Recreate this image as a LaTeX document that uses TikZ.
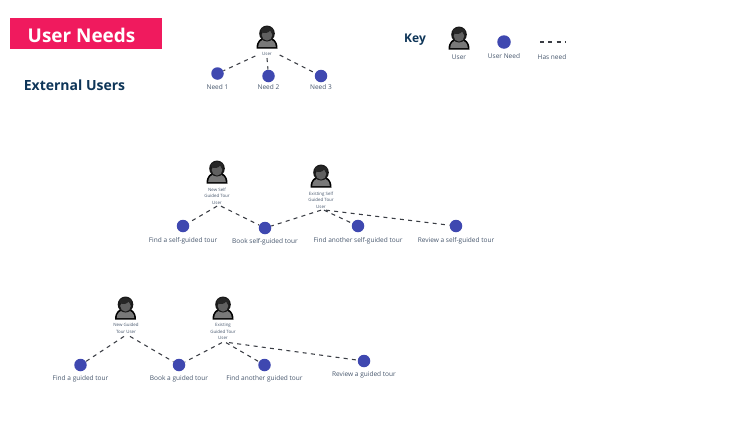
\documentclass[tikz,border=0pt]{standalone}
\usepackage{xcolor}
\usepackage{fontspec}
\setmainfont{Open Sans}
\definecolor{bannerpink}{HTML}{F01A5E}
\definecolor{needblue}{HTML}{3F48B0}
\definecolor{headnavy}{HTML}{0E3558}
\definecolor{labelgrey}{HTML}{46566C}
\definecolor{linegrey}{HTML}{3A3D44}
\tikzset{
    need/.style={circle, fill=needblue, inner sep=0pt, minimum size=12.5*0.75pt},
    needtext/.style={text=labelgrey, font=\fontsize{4.9}{6}\selectfont, inner sep=0pt},
    usertext/.style={text=labelgrey, font=\fontsize{3.3}{4.9}\selectfont, align=center, inner sep=0.5pt},
    heading/.style={text=headnavy, font=\fontsize{10.5}{12}\bfseries\selectfont, inner sep=0pt},
    hasneed/.style={line width=0.8pt, draw=linegrey, dash pattern=on 3pt off 3.2pt},
    personicon/.pic={
        \fill[black] (-10.5,11.5) .. controls (-10.5,3) and (-6,1.5) .. (-3,0.5) -- (3,0.5) .. controls (6,1.5) and (10.5,3) .. (10.5,11.5) -- cycle;
        \fill[gray!95!black] (-8.8,10) .. controls (-8.8,4.5) and (-5,3) .. (-2.5,2.5) -- (2.5,2.5) .. controls (5,3) and (8.8,4.5) .. (8.8,10) -- cycle;
        \fill[black!90] (0,-3.5) ellipse (7.8 and 8);
        \fill[gray!75!black] (0,-2) ellipse (5.3 and 5.6);
        \fill[black!85] (-5.5,-5) .. controls (-3,-3) and (2,-4) .. (3,-6.5) .. controls (4,-5) and (5,-4) .. (5.5,-3) -- (6,-8) -- (0,-10.5) -- (-6,-8) -- cycle;
    },
}
\begin{document}
\begin{tikzpicture}[x=0.75pt, y=-0.75pt]
    \useasboundingbox (0,0) rectangle (750,422);

    % banner and headings
    \node[rectangle, fill=bannerpink, minimum width=152*0.75pt, minimum height=31*0.75pt, inner sep=0pt] (banner) at (86,33.5) {};
    \node[text=white, font=\fontsize{14.2}{18}\bfseries\selectfont, inner sep=0pt] (bannertext) at (81.5,35.5) {User Needs};
    \node[heading] (external) at (74.5,85) {External Users};
    \node[heading, font=\fontsize{9}{11}\bfseries\selectfont] (key) at (415,39.5) {Key};

    % key
    \pic at (459,38) {personicon};
    \node[needtext] (keyuser) at (459,57) {User};
    \node[need, minimum size=13.5*0.75pt] (keyneed) at (504,42) {};
    \node[needtext] (keyneedtext) at (504,56.5) {User Need};
    \coordinate (keya) at (540,42);
    \coordinate (keyb) at (566,42);
    \node[needtext] (keyline) at (552,57.5) {Has need};
    \draw[hasneed] (keya) -- (keyb);

    % example user
    \pic at (267,37) {personicon};
    \node[usertext] (user) at (267,53.5) {User};
    \node[need] (needa) at (217.5,73.5) {};
    \node[needtext] (needatext) at (217.5,87.5) {Need 1};
    \node[need] (needb) at (268.5,76) {};
    \node[needtext] (needbtext) at (268.5,87) {Need 2};
    \node[need] (needc) at (321,76) {};
    \node[needtext] (needctext) at (321,87) {Need 3};

    \draw[hasneed] (user.south west) ++(-6,0) -- (needa); % user-need 1
    \draw[hasneed] (user.south) ++(0,2) -- (needb); % user-need 2
    \draw[hasneed] (user.south east) ++(7,-1) -- (needc); % user-need 3

    % self-guided tour
    \pic at (217,172) {personicon};
    \node[usertext] (newself) at (217,196) {New Self\\Guided Tour\\User};
    \pic at (321,176) {personicon};
    \node[usertext] (oldself) at (321,200) {Existing Self\\Guided Tour\\User};
    \node[need] (findself) at (183,226) {};
    \node[needtext] (findselftext) at (183,240.5) {Find a self-guided tour};
    \node[need] (bookself) at (265,228) {};
    \node[needtext] (bookselftext) at (265,241.5) {Book self-guided tour};
    \node[need] (moreself) at (358,226) {};
    \node[needtext] (moreselftext) at (358,240.5) {Find another self-guided tour};
    \node[need] (reviewself) at (456,226) {};
    \node[needtext] (reviewselftext) at (456,240.5) {Review a self-guided tour};

    \draw[hasneed] (newself.south) ++(0,1) -- (findself); % new-find
    \draw[hasneed] (newself.south) ++(4,1) -- (bookself); % new-book
    \draw[hasneed] (oldself.south) ++(0,1) -- (bookself); % existing-book
    \draw[hasneed] (oldself.south) ++(3,1) -- (moreself); % existing-another
    \draw[hasneed] (oldself.south) ++(5,1) -- (reviewself); % existing-review

    % guided tour
    \pic at (125.5,308) {personicon};
    \node[usertext] (newguided) at (126,328.5) {New Guided\\Tour User};
    \pic at (223,308) {personicon};
    \node[usertext] (oldguided) at (223,331.5) {Existing\\Guided Tour\\User};
    \node[need] (findguided) at (80.5,365) {};
    \node[needtext] (findguidedtext) at (80.5,379) {Find a guided tour};
    \node[need] (bookguided) at (179,365) {};
    \node[needtext] (bookguidedtext) at (179,379) {Book a guided tour};
    \node[need] (moreguided) at (264.5,365) {};
    \node[needtext] (moreguidedtext) at (264.5,379) {Find another guided tour};
    \node[need] (reviewguided) at (364,361) {};
    \node[needtext] (reviewguidedtext) at (364,375) {Review a guided tour};

    \draw[hasneed] (newguided.south) ++(-2,2) -- (findguided); % new-find
    \draw[hasneed] (newguided.south) ++(4,2) -- (bookguided); % new-book
    \draw[hasneed] (oldguided.south) ++(-1,2) -- (bookguided); % existing-book
    \draw[hasneed] (oldguided.south) ++(3,2) -- (moreguided); % existing-another
    \draw[hasneed] (oldguided.south) ++(6,2) -- (reviewguided); % existing-review
\end{tikzpicture}
\end{document}
